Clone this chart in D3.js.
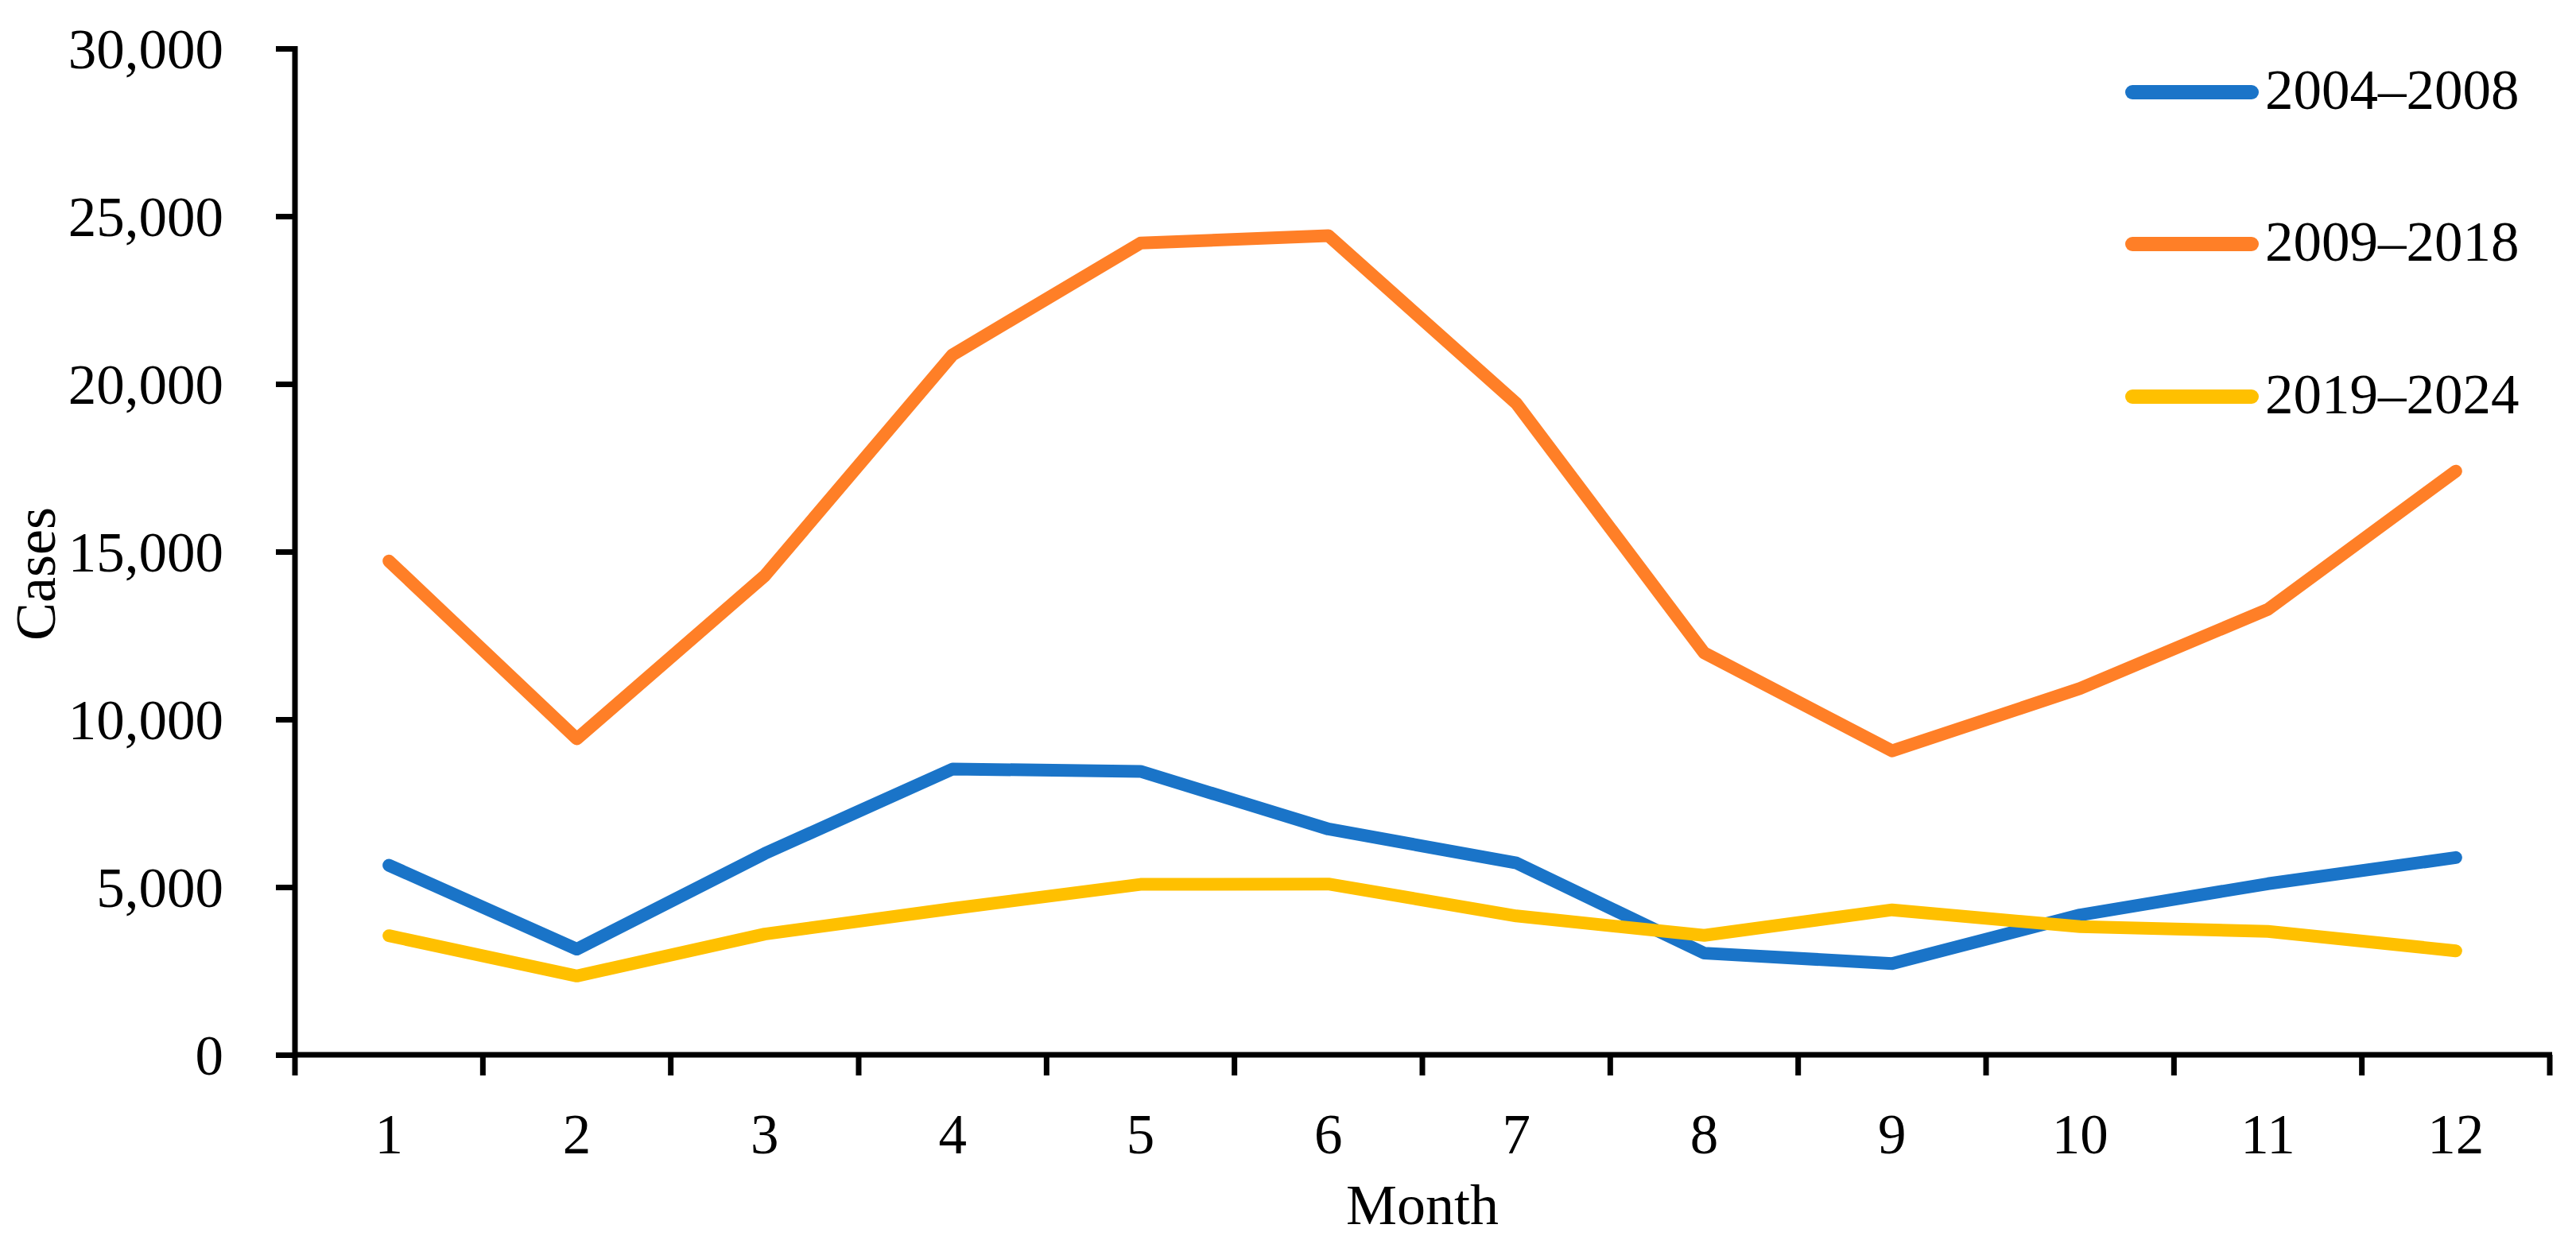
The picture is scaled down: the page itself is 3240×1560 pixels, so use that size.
<!DOCTYPE html>
<html><head><meta charset="utf-8">
<script src="https://cdn.jsdelivr.net/npm/d3@7"></script>
<style>html,body{margin:0;padding:0;background:#fff;}svg{display:block;}</style>
</head><body>
<svg id="chart" width="3240" height="1560"></svg>
<script>
const months = [1,2,3,4,5,6,7,8,9,10,11,12];
const seriesNames = ["2004–2008","2009–2018","2019–2024"];
const series2004_2008 = [5650,3150,6000,8520,8450,6730,5720,3030,2720,4170,5100,5880];
const series2009_2018 = [14720,9420,14280,20870,24200,24420,19420,11980,9060,10920,13280,17400];
const series2019_2024 = [3550,2350,3600,4360,5080,5090,4140,3560,4320,3820,3680,3100];
const yTicks = [0,5000,10000,15000,20000,25000,30000];
const colors = ["#1a74c8","#ff7f27","#ffc000"];

const allSeries = [series2004_2008, series2009_2018, series2019_2024];
const FONT = "'Palatino Linotype','Book Antiqua',Palatino,'Liberation Serif','DejaVu Serif',serif";
const svg = d3.select("#chart");
const L = 371, R = 3207, T = 61, B = 1327;

const x = d3.scaleBand().domain(months).range([L, R]).padding(0);
const y = d3.scaleLinear().domain([0, 30000]).range([B, T]);

// lines
const line = d3.line().x((d,i) => x(months[i]) + x.bandwidth()/2).y(d => y(d));
svg.append("g").selectAll("path").data(allSeries).join("path")
  .attr("d", d => line(d))
  .attr("fill","none")
  .attr("stroke",(d,i)=>colors[i])
  .attr("stroke-width",16)
  .attr("stroke-linecap","round")
  .attr("stroke-linejoin","round");

// y axis
const yAxis = svg.append("g").attr("transform",`translate(${L},0)`)
  .call(d3.axisLeft(y).tickValues(yTicks).tickSize(24).tickPadding(66)
    .tickFormat(d3.format(",")));
yAxis.select(".domain").attr("stroke","#000").attr("stroke-width",7)
  .attr("d",`M0,${T-3}V${B}`);
yAxis.selectAll(".tick line").attr("stroke","#000").attr("stroke-width",7);
yAxis.selectAll(".tick text").attr("font-family",FONT).attr("font-size",71)
  .attr("fill","#000").attr("dy","0.34em");

// x axis
const xAxis = svg.append("g").attr("transform",`translate(0,${B})`)
  .call(d3.axisBottom(x).tickSize(0).tickPadding(74));
xAxis.select(".domain").attr("stroke","#000").attr("stroke-width",7)
  .attr("d",`M${L-3},0H${R+3}`);
xAxis.selectAll(".tick text").attr("font-family",FONT).attr("font-size",71).attr("fill","#000");
// boundary ticks between categories
const bounds = months.map(m => x(m)).concat([R]);
xAxis.append("g").selectAll("line").data(bounds).join("line")
  .attr("x1",d=>d).attr("x2",d=>d).attr("y1",0).attr("y2",26)
  .attr("stroke","#000").attr("stroke-width",7);

// axis titles
svg.append("text").attr("x",(L+R)/2).attr("y",1540).attr("text-anchor","middle")
  .attr("font-family",FONT).attr("font-size",72).text("Month");
svg.append("text").attr("transform","translate(69,722) rotate(-90)").attr("text-anchor","middle")
  .attr("font-family",FONT).attr("font-size",72).text("Cases");

// legend
const legY = [116,307,499];
const lg = svg.append("g").selectAll("g").data(seriesNames).join("g")
  .attr("transform",(d,i)=>`translate(0,${legY[i]})`);
lg.append("line").attr("x1",2682).attr("x2",2832).attr("y1",0).attr("y2",0)
  .attr("stroke",(d,i)=>colors[i]).attr("stroke-width",18).attr("stroke-linecap","round");
lg.append("text").attr("x",2849).attr("y",21).attr("font-family",FONT).attr("font-size",71)
  .text(d=>d);
</script>
</body></html>
